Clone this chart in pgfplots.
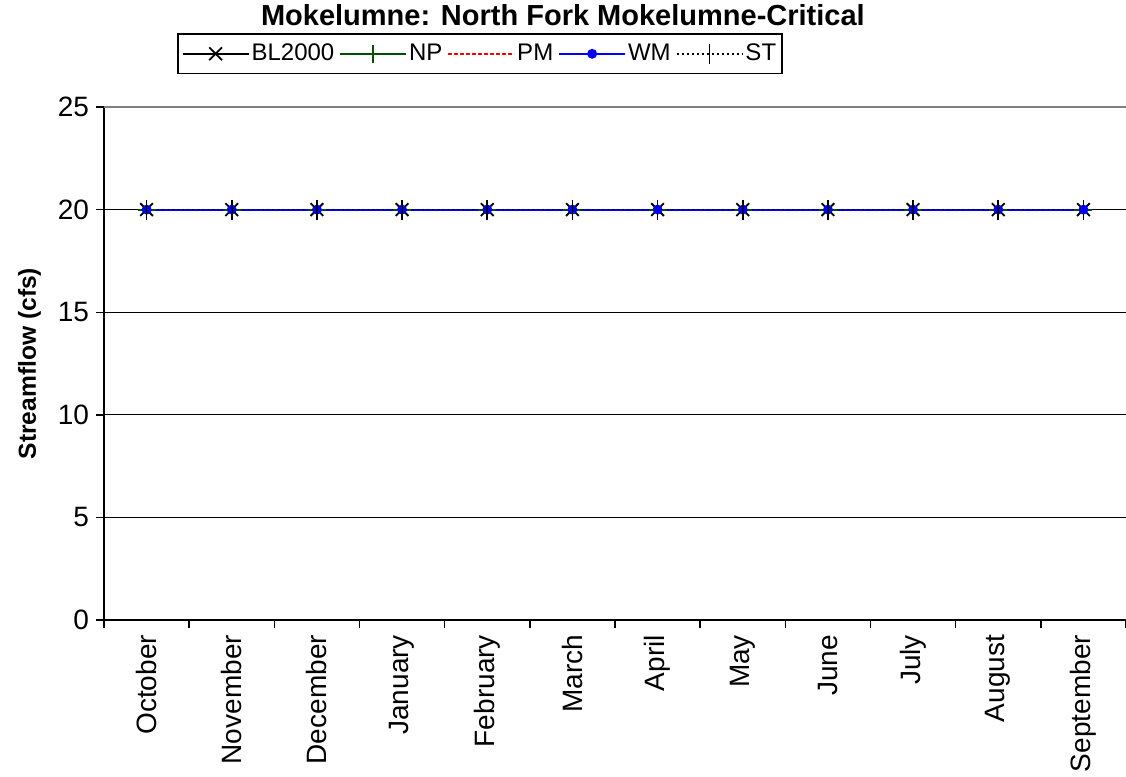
\documentclass[border=0pt]{standalone}
\usepackage{pgfplots}
\pgfplotsset{compat=1.18}
\usepackage{fontspec}
\setmainfont{Liberation Sans}
\definecolor{npgreen}{RGB}{0,80,0}

\begin{document}
\begin{tikzpicture}[x=0.5pt,y=0.5pt]
  \begin{axis}[
      at={(52pt,78.5pt)}, anchor=south west,
      scale only axis,
      width=511pt, height=256.5pt,
      xmin=0, xmax=12, ymin=0, ymax=25,
      axis x line*=bottom, axis y line*=left,
      axis line style={black, line width=0.8pt},
      xtick={0.5,1.5,...,11.5},
      xticklabels={October,November,December,January,February,March,April,May,June,July,August,September},
      major x tick style={draw=none},
      minor xtick={0,1,...,12},
      minor tick length=4pt,
      x tick label style={rotate=90, anchor=east, font=\fontsize{14pt}{16pt}\selectfont},
      ytick={0,5,...,20},
      extra y ticks={25},
      extra y tick style={grid style={gray, line width=0.8pt}},
      tick align=outside,
      major tick length=4pt,
      tick style={black, line width=0.7pt},
      y tick label style={font=\fontsize{14pt}{16pt}\selectfont},
      /pgf/number format/assume math mode=true,
      ymajorgrids,
      grid style={black, line width=0.6pt},
      ylabel={\textbf{Streamflow (cfs)}},
      ylabel style={font=\fontsize{12.3pt}{14pt}\selectfont},
      ylabel shift=-6.5pt,
      title={\textbf{Mokelumne: North Fork Mokelumne-Critical}},
      title style={font=\fontsize{14.5pt}{16pt}\selectfont, at={(0.449,1)}, anchor=base, yshift=35pt},
      legend columns=5,
      legend style={at={(0.0714,1.144)}, anchor=north west, line width=0.8pt,
        font=\fontsize{12pt}{14pt}\selectfont, inner xsep=2pt, inner ysep=3pt,
        nodes={inner xsep=1pt},
        /tikz/every even column/.append style={column sep=1.5pt}},
      legend image code/.code={\draw[line width=0.9pt, mark repeat=2, mark phase=2] plot coordinates {(0pt,0pt) (16.5pt,0pt) (33pt,0pt)};},
      clip=false,
    ]
    \addplot[color=black, line width=0.9pt, mark=x, mark size=4.5pt, mark options={solid, line width=0.9pt}]
      coordinates {(0.5,20) (1.5,20) (2.5,20) (3.5,20) (4.5,20) (5.5,20) (6.5,20) (7.5,20) (8.5,20) (9.5,20) (10.5,20) (11.5,20)};
    \addlegendentry{BL2000}
    \addplot[color=npgreen, line width=0.9pt, mark=+, mark size=4.5pt, mark options={solid}]
      coordinates {(0.5,20) (1.5,20) (2.5,20) (3.5,20) (4.5,20) (5.5,20) (6.5,20) (7.5,20) (8.5,20) (9.5,20) (10.5,20) (11.5,20)};
    \addlegendentry{NP}
    \addplot[color=red, line width=0.9pt, dash pattern=on 2pt off 1pt]
      coordinates {(0.5,20) (1.5,20) (2.5,20) (3.5,20) (4.5,20) (5.5,20) (6.5,20) (7.5,20) (8.5,20) (9.5,20) (10.5,20) (11.5,20)};
    \addlegendentry{PM}
    \addplot[color=blue, line width=0.9pt, mark=*, mark size=2pt, mark options={solid}]
      coordinates {(0.5,20) (1.5,20) (2.5,20) (3.5,20) (4.5,20) (5.5,20) (6.5,20) (7.5,20) (8.5,20) (9.5,20) (10.5,20) (11.5,20)};
    \addlegendentry{WM}
    \addplot[color=black, line width=0.7pt, dash pattern=on 1pt off 1.5pt, mark=|, mark size=5pt, mark options={solid, line width=0.9pt}]
      coordinates {(0.5,20) (1.5,20) (2.5,20) (3.5,20) (4.5,20) (5.5,20) (6.5,20) (7.5,20) (8.5,20) (9.5,20) (10.5,20) (11.5,20)};
    \addlegendentry{ST}
  \end{axis}
  \pgfresetboundingbox
  \useasboundingbox (0,0) rectangle (1126,777);
\end{tikzpicture}
\end{document}
